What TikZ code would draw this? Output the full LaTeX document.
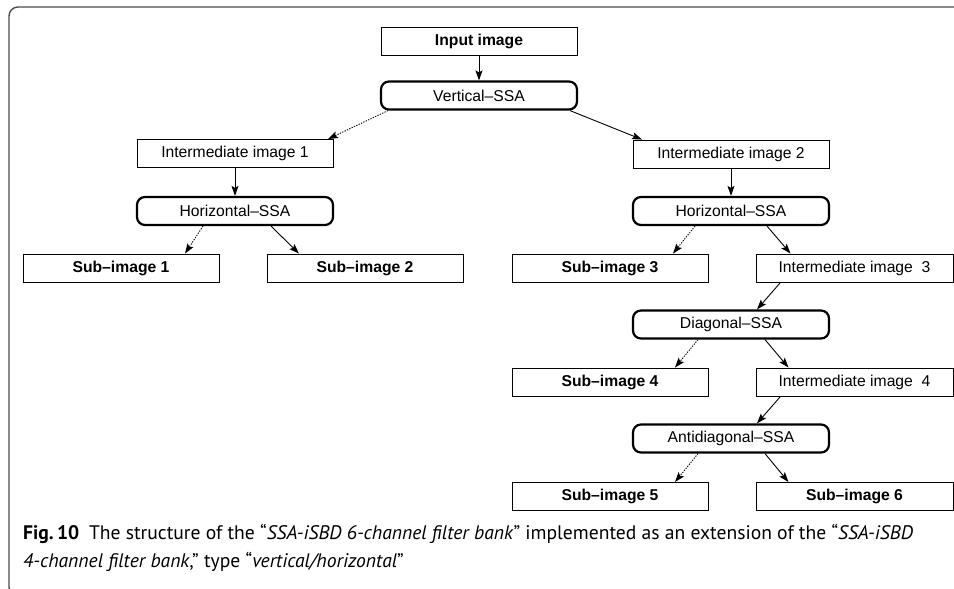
\documentclass[tikz,border=0pt]{standalone}
\usepackage{fontspec}
\setmainfont{Liberation Sans}
\newfontfamily\capfont{PT Sans}
\usetikzlibrary{arrows.meta}
\tikzset{
  box/.style={draw, line width=0.9pt, minimum width=196pt, minimum height=28pt,
    inner sep=0pt, font=\fontsize{15.7}{18}\selectfont},
  subbox/.style={box, font=\fontsize{15.7}{18}\selectfont\bfseries},
  ssabox/.style={box, line width=2.2pt, rounded corners=8pt},
  arr/.style={-{Stealth[length=10pt,width=7pt,inset=2pt]}, line width=0.9pt},
  dotarr/.style={arr, dash pattern=on 1.3pt off 1.3pt},
  captext/.style={anchor=base west, inner sep=0pt, font=\capfont\fontsize{19.6}{28}\selectfont},
}
\begin{document}
\begin{tikzpicture}[x=1pt,y=-1pt]
  \useasboundingbox (0,0) rectangle (954,589);
  % frame
  \draw[black!70, line width=1.4pt, rounded corners=9pt]
    (960,7) -- (9,7) -- (9,596) -- (40,596);
  % nodes
  \node[subbox] (in) at (479,41) {Input image};
  \node[ssabox] (vssa) at (479,95.5) {Vertical–SSA};
  \node[box] (int1) at (235,153.5) {Intermediate image 1};
  \node[box] (int2) at (731,154) {Intermediate image 2};
  \node[ssabox] (hssaL) at (235,211) {Horizontal–SSA};
  \node[ssabox] (hssaR) at (731,211) {Horizontal–SSA};
  \node[subbox] (sub1) at (121,268) {Sub–image 1};
  \node[subbox] (sub2) at (365,268) {Sub–image 2};
  \node[subbox] (sub3) at (610,268) {Sub–image 3};
  \node[box, minimum width=197pt] (int3) at (854.5,268) {Intermediate image~~3};
  \node[ssabox] (dssa) at (731,324.5) {Diagonal–SSA};
  \node[subbox] (sub4) at (610,382) {Sub–image 4};
  \node[box, minimum width=197pt] (int4) at (854.5,382) {Intermediate image~~4};
  \node[ssabox] (assa) at (731,438.5) {Antidiagonal–SSA};
  \node[subbox] (sub5) at (610,496.5) {Sub–image 5};
  \node[subbox, minimum width=197pt] (sub6) at (854.5,496.5) {Sub–image 6};
  % connectors
  \draw[arr] (in) -- (vssa);
  \draw[dotarr] ([xshift=-91]vssa.south) -- ([xshift=93]int1.north);
  \draw[arr] ([xshift=91]vssa.south) -- ([xshift=-89]int2.north);
  \draw[arr] (int1) -- (hssaL);
  \draw[arr] (int2) -- (hssaR);
  \draw[dotarr] ([xshift=-32]hssaL.south) -- ([xshift=64]sub1.north);
  \draw[arr] ([xshift=36]hssaL.south) -- ([xshift=-66]sub2.north);
  \draw[dotarr] ([xshift=-36]hssaR.south) -- ([xshift=63]sub3.north);
  \draw[arr] ([xshift=36]hssaR.south) -- ([xshift=-64]int3.north);
  \draw[arr] ([xshift=-74]int3.south) -- ([xshift=26]dssa.north);
  \draw[dotarr] ([xshift=-33]dssa.south) -- ([xshift=65]sub4.north);
  \draw[arr] ([xshift=34]dssa.south) -- ([xshift=-66]int4.north);
  \draw[arr] ([xshift=-74]int4.south) -- ([xshift=26]assa.north);
  \draw[dotarr] ([xshift=-33]assa.south) -- ([xshift=65]sub5.north);
  \draw[arr] ([xshift=34]assa.south) -- ([xshift=-66]sub6.north);
  % caption
  \node[captext] (cap1) at (23,539) {{\bfseries Fig.\,10}\enspace The structure of the “\textit{SSA-iSBD 6-channel filter bank}” implemented as an extension of the “\textit{SSA-iSBD}};
  \node[captext] (cap2) at (23,567) {\textit{4-channel filter bank},” type “\textit{vertical/horizontal}”};
\end{tikzpicture}
\end{document}
